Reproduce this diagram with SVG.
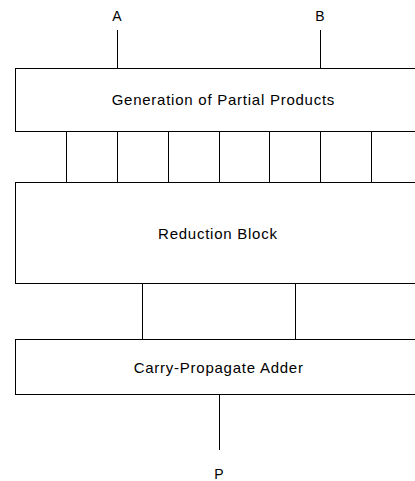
<svg xmlns="http://www.w3.org/2000/svg" width="415" height="481" viewBox="0 0 415 481">
<style>
.box{fill:#fff;stroke:#000;stroke-width:1}
.ln{stroke:#000;stroke-width:1;fill:none}
.t{font-family:"Liberation Sans",Arial,sans-serif;font-size:15px;fill:#000;text-anchor:middle;letter-spacing:0.75px}
.lbl{font-family:"Liberation Sans",Arial,sans-serif;font-size:14px;fill:#000;text-anchor:middle}
</style>
<rect width="415" height="481" fill="#fff"/>
<g id="connectors">
<line class="ln" x1="117.5" y1="30" x2="117.5" y2="68.5"/>
<line class="ln" x1="320.5" y1="30" x2="320.5" y2="68.5"/>
<line class="ln" x1="66.5" y1="131.5" x2="66.5" y2="182.5"/>
<line class="ln" x1="117.5" y1="131.5" x2="117.5" y2="182.5"/>
<line class="ln" x1="168.5" y1="131.5" x2="168.5" y2="182.5"/>
<line class="ln" x1="219.5" y1="131.5" x2="219.5" y2="182.5"/>
<line class="ln" x1="269.5" y1="131.5" x2="269.5" y2="182.5"/>
<line class="ln" x1="320.5" y1="131.5" x2="320.5" y2="182.5"/>
<line class="ln" x1="371.5" y1="131.5" x2="371.5" y2="182.5"/>
<line class="ln" x1="142.5" y1="283.5" x2="142.5" y2="339.5"/>
<line class="ln" x1="295.5" y1="283.5" x2="295.5" y2="339.5"/>
<line class="ln" x1="219.5" y1="394.5" x2="219.5" y2="450"/>
</g>
<g id="labelA"><text class="lbl" x="117" y="20.5">A</text></g>
<g id="labelB"><text class="lbl" x="320" y="20.5">B</text></g>
<g id="gen">
<rect class="box" x="15.5" y="68.5" width="420" height="63"/>
<text class="t" x="223.4" y="104.5">Generation of Partial Products</text>
</g>
<g id="reduction">
<rect class="box" x="15.5" y="182.5" width="420" height="101"/>
<text class="t" x="217.9" y="239">Reduction Block</text>
</g>
<g id="cpa">
<rect class="box" x="15.5" y="339.5" width="420" height="55"/>
<text class="t" x="218.7" y="373">Carry-Propagate Adder</text>
</g>
<g id="labelP"><text class="lbl" x="219" y="479">P</text></g>
</svg>
